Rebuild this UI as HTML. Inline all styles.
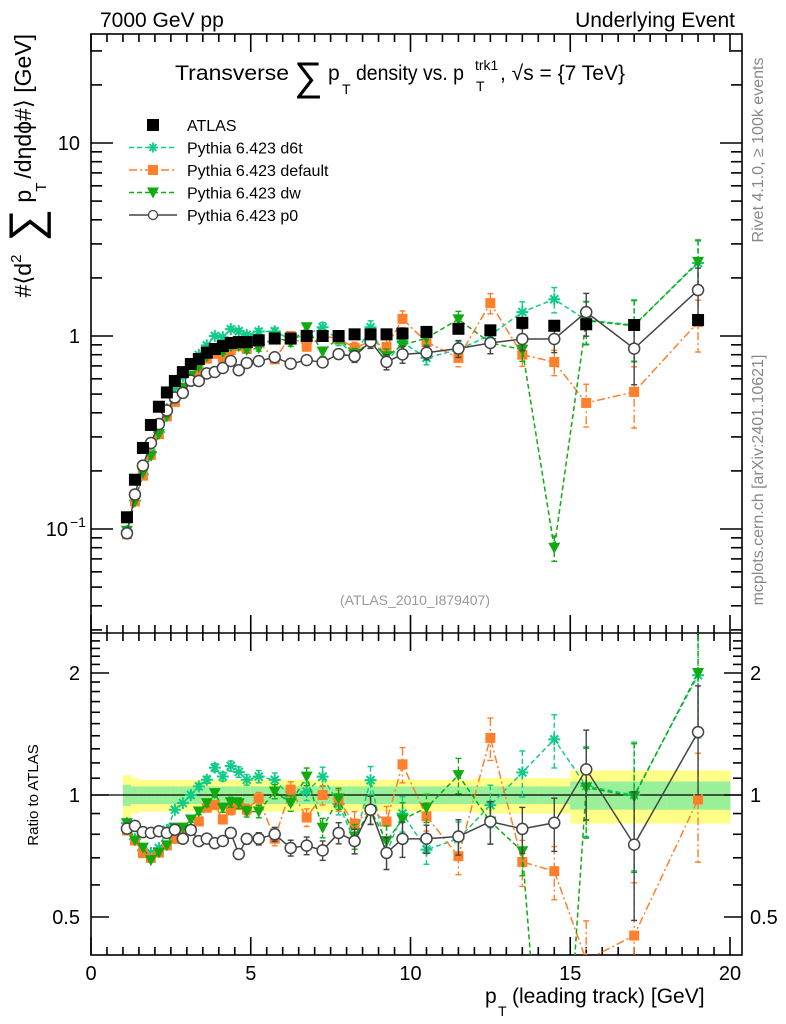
<!DOCTYPE html>
<html><head><meta charset="utf-8">
<style>
html,body{margin:0;padding:0;background:#fff;overflow:hidden;width:786px;height:1024px;}
svg{display:block;font-family:"Liberation Sans",sans-serif;}
</style></head>
<body>
<svg id="chart" width="786" height="1024" viewBox="0 0 786 1024" xmlns="http://www.w3.org/2000/svg">
<text x="100" y="27" font-size="21">7000 GeV pp</text>
<text x="735" y="27" font-size="21" text-anchor="end">Underlying Event</text>
<g>
<text x="175" y="80" font-size="21" textLength="114" lengthAdjust="spacingAndGlyphs">Transverse</text>
<text x="294" y="90" font-size="40">∑</text>
<text x="328" y="80" font-size="21">p</text>
<text x="342" y="94" font-size="14">T</text>
<text x="356" y="80" font-size="21" textLength="108" lengthAdjust="spacingAndGlyphs">density vs. p</text>
<text x="476" y="91" font-size="14">T</text>
<text x="475" y="70" font-size="14">trk1</text>
<text x="500" y="80" font-size="21">, √s = {7 TeV}</text>
</g>
<g transform="translate(31,0) rotate(-90)">
<text x="-34" y="0" font-size="23" text-anchor="end">#⟨d<tspan font-size="15" dy="-10">2</tspan><tspan font-size="46" dy="20"> ∑</tspan><tspan dy="-10"> p</tspan><tspan font-size="15" dy="15" dx="-2">T</tspan><tspan dy="-15" dx="4">/dηdϕ#⟩ [GeV]</tspan></text>
</g>
<text transform="translate(763,150) rotate(-90)" font-size="16" fill="#888" text-anchor="middle">Rivet 4.1.0, ≥ 100k events</text>
<text transform="translate(763,480) rotate(-90)" font-size="16" fill="#888" text-anchor="middle">mcplots.cern.ch [arXiv:2401.10621]</text>
<text x="415" y="605" font-size="14" fill="#999" text-anchor="middle">(ATLAS_2010_I879407)</text>
<text transform="translate(38,795) rotate(-90)" font-size="15" text-anchor="middle">Ratio to ATLAS</text>
<g>
<text x="485" y="1003" font-size="21">p</text>
<text x="498" y="1016" font-size="14">T</text>
<text x="512" y="1003" font-size="21">(leading track) [GeV]</text>
</g>
<g id="layer"></g>
</svg>
<script>
const xs=[1.125,1.375,1.625,1.875,2.125,2.375,2.625,2.875,3.125,3.375,3.625,3.875,4.125,4.375,4.625,4.875,5.25,5.75,6.25,6.75,7.25,7.75,8.25,8.75,9.25,9.75,10.5,11.5,12.5,13.5,14.5,15.5,17,19];
const atlas=[0.115,0.18,0.263,0.346,0.43,0.51,0.585,0.65,0.716,0.76,0.82,0.856,0.887,0.92,0.93,0.93,0.95,0.97,0.97,1.0,1.0,1.0,1.02,1.02,1.02,1.03,1.05,1.09,1.07,1.17,1.13,1.15,1.14,1.21];
const d6t=[0.098,0.140,0.192,0.249,0.318,0.418,0.538,0.621,0.716,0.798,0.894,1.0,0.985,1.085,1.06,1.014,1.055,1.057,0.96,1.02,1.11,0.95,0.785,1.11,0.734,0.927,0.77,0.85,1.01,1.33,1.55,1.21,1.14,2.39];
const dflt=[0.094,0.139,0.189,0.242,0.310,0.383,0.456,0.52,0.587,0.654,0.763,0.809,0.772,0.846,0.884,0.856,0.931,0.757,1.0,0.88,1.0,0.97,0.867,0.938,0.877,1.226,0.93,0.77,1.48,0.80,0.733,0.45,0.513,1.18];
const dw=[0.098,0.139,0.195,0.239,0.310,0.383,0.486,0.540,0.623,0.692,0.783,0.865,0.825,0.883,0.888,0.846,0.865,0.989,0.926,1.11,0.83,0.98,0.806,0.938,0.785,0.896,0.976,1.22,0.92,0.85,0.08,1.2,1.13,2.42];
const p0=[0.095,0.151,0.213,0.279,0.350,0.411,0.480,0.507,0.587,0.585,0.640,0.651,0.683,0.742,0.665,0.725,0.741,0.776,0.718,0.75,0.73,0.806,0.785,0.938,0.734,0.803,0.819,0.861,0.920,0.965,0.965,1.33,0.86,1.73];
const mcErr=[0.01,0.01,0.01,0.01,0.012,0.012,0.014,0.015,0.016,0.018,0.02,0.022,0.025,0.028,0.03,0.03,0.035,0.04,0.045,0.05,0.055,0.06,0.07,0.08,0.09,0.1,0.08,0.1,0.12,0.13,0.15,0.25,0.35,0.3];
const bandY=[0.12,0.1,0.09,0.09,0.09,0.09,0.09,0.09,0.09,0.09,0.09,0.09,0.09,0.09,0.09,0.09,0.09,0.09,0.09,0.09,0.09,0.09,0.09,0.09,0.09,0.09,0.09,0.09,0.1,0.1,0.1,0.15,0.15,0.15];
const bandG=[0.06,0.05,0.05,0.05,0.05,0.05,0.05,0.05,0.05,0.05,0.05,0.05,0.05,0.05,0.05,0.05,0.05,0.05,0.05,0.05,0.05,0.05,0.05,0.05,0.05,0.05,0.05,0.05,0.05,0.05,0.05,0.08,0.08,0.08];
const xTicks=[0,5,10,15,20];
const mainTicks=[{v:10,l:"10"},{v:1,l:"1"},{v:0.1,l:"10"}];
const ratioTicks=[2,1,0.5];

const NS="http://www.w3.org/2000/svg";
const L=91,R=742,MT=34,MB=633,RB=955;
const X=v=>L+v*31.95;
const Y=v=>336-Math.log10(v)*193;
const RY=v=>795-Math.log2(v)*122;
const layer=document.getElementById('layer');
function mk(tag,at,parent){const e=document.createElementNS(NS,tag);for(const k in at)e.setAttribute(k,at[k]);(parent||layer).appendChild(e);return e;}
function hw(i){if(i<16)return 0.125;if(i<26)return 0.25;if(i<32)return 0.5;return 1;}

const defs=mk('defs',{});
const c1=mk('clipPath',{id:'cm'},defs);mk('rect',{x:L,y:MT,width:R-L,height:MB-MT},c1);
const c2=mk('clipPath',{id:'cr'},defs);mk('rect',{x:L,y:MB,width:R-L,height:RB-MB},c2);

const bands=mk('g',{'clip-path':'url(#cr)'});


xs.forEach((x,i)=>{
  const x0=X(x-hw(i)),x1=X(x+hw(i));
  const y=mk('rect',{x:x0,y:RY(1+bandY[i]),width:x1-x0+0.5,height:RY(1-bandY[i])-RY(1+bandY[i]),fill:'#ffff88'},bands);
  
  
  const g=mk('rect',{x:x0,y:RY(1+bandG[i]),width:x1-x0+0.5,height:RY(1-bandG[i])-RY(1+bandG[i]),fill:'#99f099'},bands);
  
  
});
const one=mk('line',{x1:L,x2:R,y1:RY(1),y2:RY(1),stroke:'#000','stroke-width':1.3});



const ax=mk('g',{stroke:'#000','stroke-width':1.6,fill:'none'});


mk('rect',{x:L,y:MT,width:R-L,height:RB-MT},ax);
mk('line',{x1:L,x2:R,y1:MB,y2:MB},ax);
for(let v=0;v<=20.3;v+=0.5){
  const maj=Math.abs(v%5)<1e-6, len=maj?18:8;
  [MT,MB].forEach(t=>mk('line',{x1:X(v),x2:X(v),y1:t,y2:t+len},ax));
  [MB,RB].forEach(b=>mk('line',{x1:X(v),x2:X(v),y1:b,y2:b-len},ax));
}
for(let d=-2;d<=1;d++){for(let m=1;m<=9;m++){const v=m*Math.pow(10,d);const y=Y(v);if(y<MT||y>MB)continue;const len=m==1?22:11;mk('line',{x1:L,x2:L+len,y1:y,y2:y},ax);mk('line',{x1:R,x2:R-len,y1:y,y2:y},ax);}}
for(let v=0.4;v<=2.5;v+=0.1){const y=RY(v);if(y<MB||y>RB)continue;const maj=[0.5,1,2].some(t=>Math.abs(t-v)<1e-6);const len=maj?18:9;mk('line',{x1:L,x2:L+len,y1:y,y2:y},ax);mk('line',{x1:R,x2:R-len,y1:y,y2:y},ax);}
const tl=mk('g',{'font-size':20,fill:'#000'});


xTicks.forEach(v=>{const t=mk('text',{x:X(v),y:980,'text-anchor':'middle'},tl);t.textContent=v;});
mainTicks.forEach(t=>{const e=mk('text',{x:80,y:Y(t.v)+7,'text-anchor':'end'},tl);e.textContent=t.l;if(t.v<1){e.setAttribute('x',68);const s=mk('text',{x:70,y:Y(t.v)-2,'font-size':14},tl);s.textContent='−1';}});
ratioTicks.forEach(v=>{const e=mk('text',{x:80,y:RY(v)+7,'text-anchor':'end'},tl);e.textContent=v;const e2=mk('text',{x:750,y:RY(v)+7},tl);e2.textContent=v;});

function series(vals,color,dash,marker,name,withRatio){
  const gm=mk('g',{'clip-path':'url(#cm)'});
  
  
  const sets=[[gm,Y,vals.map(v=>v)]];
  if(withRatio){
    const gr=mk('g',{'clip-path':'url(#cr)'});
    
    
    sets.push([gr,RY,vals.map((v,i)=>v/atlas[i])]);
  }
  sets.forEach(([g,F,arr])=>{
    if(dash!==null){const pts=arr.map((v,i)=>X(xs[i])+','+F(v)).join(' ');mk('polyline',{points:pts,fill:'none',stroke:color,'stroke-width':1.5,'stroke-dasharray':dash},g);}
    arr.forEach((v,i)=>{
      const e=(marker==='atlas')?0.02:mcErr[i];
      const x=X(xs[i]);
      if(e>0.015){mk('line',{x1:x,x2:x,y1:F(v*(1+e)),y2:F(Math.max(v*(1-e),1e-3)),stroke:color,'stroke-width':1.4,'stroke-dasharray':dash||''},g);
        [F(v*(1+e)),F(Math.max(v*(1-e),1e-3))].forEach(yy=>mk('line',{x1:x-3,x2:x+3,y1:yy,y2:yy,stroke:color,'stroke-width':1.4},g));}
      const y=F(v);let m;
      if(marker==='atlas')m=mk('rect',{x:x-6,y:y-6,width:12,height:12,fill:'#000'},g);
      else if(marker==='square')m=mk('rect',{x:x-5,y:y-5,width:10,height:10,fill:color},g);
      else if(marker==='tri')m=mk('path',{d:`M${x-6},${y-5}L${x+6},${y-5}L${x},${y+6}Z`,fill:color},g);
      else if(marker==='circle')m=mk('circle',{cx:x,cy:y,r:5.5,fill:'#fff',stroke:color,'stroke-width':1.5},g);
      else {m=mk('path',{d:`M${x-6},${y}H${x+6}M${x},${y-6}V${y+6}M${x-4},${y-4}L${x+4},${y+4}M${x-4},${y+4}L${x+4},${y-4}`,stroke:color,'stroke-width':2},g);}
      
      
    });
  });
}
series(d6t,'#11cc88','5,3','star','d6t',true);
series(dflt,'#ff7f2a','8,3,2,3','square','default',true);
series(dw,'#11aa11','5,3','tri','dw',true);
series(p0,'#444','','circle','p0',true);
series(atlas,'#000',null,'atlas','atlas',false);

const lg=mk('g',{'font-size':16});


const items=[['ATLAS','#000',null,'atlas'],['Pythia 6.423 d6t','#11cc88','5,3','star'],['Pythia 6.423 default','#ff7f2a','8,3,2,3','square'],['Pythia 6.423 dw','#11aa11','5,3','tri'],['Pythia 6.423 p0','#444','','circle']];
items.forEach((it,k)=>{
  const y=125+k*22.5, x=153;
  const g=mk('g',{},lg);
  
  
  if(it[2]!==null)mk('line',{x1:129,x2:177,y1:y,y2:y,stroke:it[1],'stroke-width':1.4,'stroke-dasharray':it[2]},g);
  if(it[3]==='atlas')mk('rect',{x:x-6,y:y-6,width:12,height:12,fill:'#000'},g);
  else if(it[3]==='square')mk('rect',{x:x-5,y:y-5,width:10,height:10,fill:it[1]},g);
  else if(it[3]==='tri')mk('path',{d:`M${x-6},${y-5}L${x+6},${y-5}L${x},${y+6}Z`,fill:it[1]},g);
  else if(it[3]==='circle')mk('circle',{cx:x,cy:y,r:4.5,fill:'#fff',stroke:it[1],'stroke-width':1.3},g);
  else mk('path',{d:`M${x-5},${y}H${x+5}M${x},${y-5}V${y+5}M${x-3.5},${y-3.5}L${x+3.5},${y+3.5}M${x-3.5},${y+3.5}L${x+3.5},${y-3.5}`,stroke:it[1],'stroke-width':1.8},g);
  const t=mk('text',{x:187,y:y+6},g);t.textContent=it[0];
});
</script>
</body></html>
